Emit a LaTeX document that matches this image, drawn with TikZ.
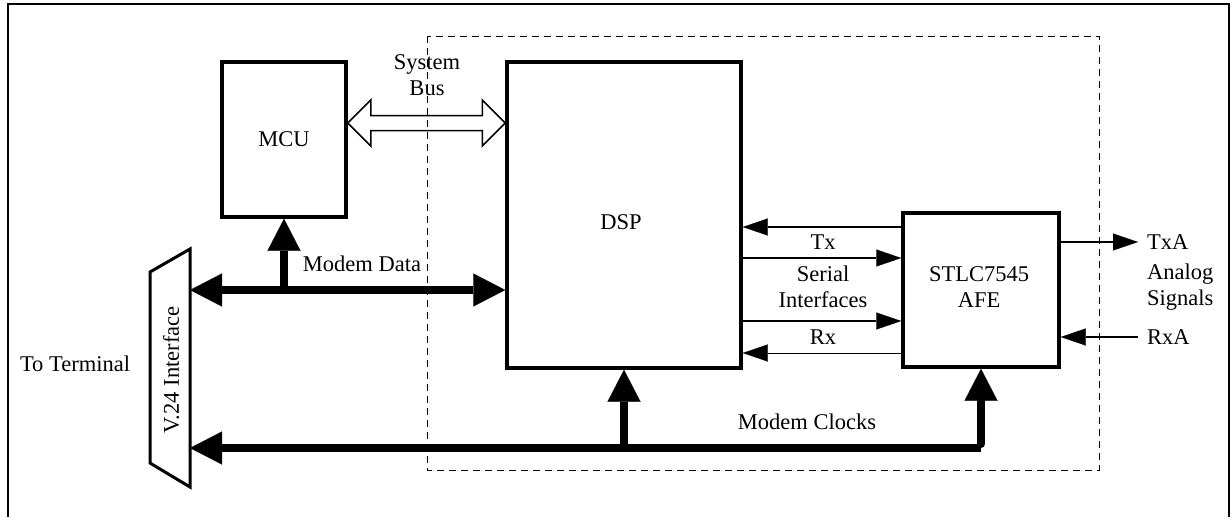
\documentclass[tikz,border=0pt]{standalone}
\usepackage{fontspec}
\setmainfont{Liberation Serif}
\usetikzlibrary{arrows.meta}
\tikzset{
  blk/.style={draw, line width=3.5pt, inner sep=0pt},
  lbl/.style={inner sep=0pt, font=\fontsize{22.5}{26.5}\selectfont, align=center},
  bus/.style={line width=8pt},
  bigtip/.style={-{Triangle[length=32pt,width=33pt,line width=0.1pt]}},
  bigtips/.style={{Triangle[length=32pt,width=33pt,line width=0.1pt]}-{Triangle[length=32pt,width=33pt,line width=0.1pt]}},
  sig/.style={line width=1.3pt, -{Triangle[length=25pt,width=17pt,line width=0.1pt]}},
  frame/.style={line width=2.2pt},
  region/.style={line width=0.9pt, dash pattern=on 7pt off 5pt}
}
\begin{document}
\begin{tikzpicture}[x=1pt,y=-1pt]
\useasboundingbox (0,0) rectangle (1231,517);
% outer frame (open at bottom)
\draw[frame] (8,517) -- (8,4) -- (1229,4) -- (1229,517);
% dashed region
\draw[region] (427,36) rectangle (1099,470);
% blocks
\node[blk, minimum width=124pt, minimum height=155pt] (mcu) at (284,139.5) {};
\node[lbl] (mcut) at (284,139) {MCU};
\node[blk, minimum width=234pt, minimum height=306pt] (dsp) at (624,215) {};
\node[lbl] (dspt) at (621,222) {DSP};
\node[blk, minimum width=156pt, minimum height=154pt] (afe) at (981,290) {};
\node[lbl] (afet) at (979,287) {STLC7545\\AFE};
% V.24 interface
\draw[line width=3pt, line join=miter] (190,249) -- (190,487) -- (150,463) -- (150,272) -- cycle;
\node[lbl, rotate=90] (v24) at (171,370) {V.24 Interface};
\coordinate (v24d) at (190,290);
\coordinate (v24c) at (190,448);
\node[lbl] (term) at (75,364) {To Terminal};
% system bus
\path (mcu.east |- 0,123) coordinate (sbl) (dsp.west |- 0,123) coordinate (sbr);
\draw[line width=1.5pt, line join=miter]
  (sbl) -- ([shift={(23,-23)}]sbl) -- ([shift={(23,-7.5)}]sbl) -- ([shift={(-23,-7.5)}]sbr)
  -- ([shift={(-23,-23)}]sbr) -- (sbr) -- ([shift={(-23,23)}]sbr) -- ([shift={(-23,7.5)}]sbr)
  -- ([shift={(23,7.5)}]sbl) -- ([shift={(23,23)}]sbl) -- cycle;
\node[lbl] (sbt) at (427,75) {System\\Bus};
% modem data bus
\draw[bus, bigtips] (v24d) -- (dsp.west |- v24d);
\coordinate (mdj) at (mcu.south |- v24d);
\draw[bus, bigtip] ([yshift=4pt]mdj) -- (mcu.south);
\node[lbl] (mdt) at (362,264) {Modem Data};
% modem clocks bus
\coordinate (mcr) at (afe.south |- v24c);
\draw[bus, bigtip, line join=round] (mcr) -- (v24c);
\draw[bus, bigtip, line cap=round, line join=round] ([yshift=4pt]mcr) -- (afe.south);
\coordinate (mcd) at (dsp.south |- v24c);
\draw[bus, bigtip] ([yshift=4pt]mcd) -- (dsp.south);
\node[lbl] (mct) at (807,422) {Modem Clocks};
% serial interfaces
\draw[sig] (afe.west |- 0,227) -- (dsp.east |- 0,227);
\draw[sig] (dsp.east |- 0,258) -- (afe.west |- 0,258);
\draw[sig] (dsp.east |- 0,321) -- (afe.west |- 0,321);
\draw[sig, line width=1pt] (afe.west |- 0,353) -- (dsp.east |- 0,353);
\node[lbl] (txt) at (823,242) {Tx};
\node[lbl] (sit) at (823,287) {Serial\\Interfaces};
\node[lbl] (rxt) at (823,337) {Rx};
% analog signals
\coordinate (txa) at (1138,242);
\coordinate (rxa) at (1138,337);
\draw[sig] (afe.east |- txa) -- (txa);
\draw[sig] (rxa) -- (afe.east |- rxa);
\node[lbl, anchor=west] (txat) at (1147,242) {TxA};
\node[lbl, anchor=west, align=left] (ast) at (1147,287) {Analog\\Signals};
\node[lbl, anchor=west] (rxat) at (1147,337) {RxA};
\end{tikzpicture}
\end{document}
